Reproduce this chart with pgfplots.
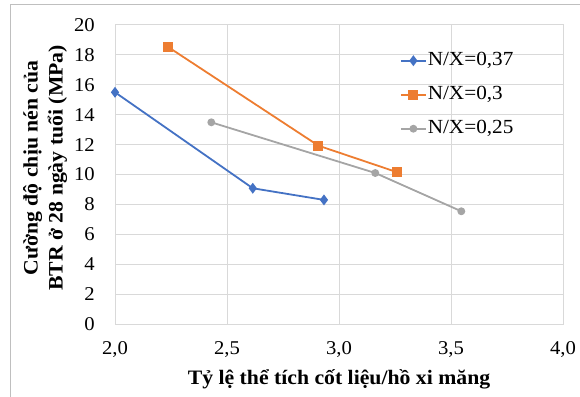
\documentclass[border=0pt]{standalone}
\usepackage{fontspec}
\setmainfont{Liberation Serif}[FakeStretch=1.06]
\usepackage{pgfplots}
\pgfplotsset{compat=1.18}
\definecolor{gridgray}{RGB}{217,217,217}
\definecolor{framegray}{RGB}{191,191,191}
\definecolor{sblue}{RGB}{68,114,196}
\definecolor{sorange}{RGB}{237,125,49}
\definecolor{sgray}{RGB}{165,165,165}
\begin{document}
\begin{tikzpicture}[x=1pt,y=1pt]
\useasboundingbox (0,0) rectangle (580,396);
\draw[framegray, line width=1pt] (10.5,-20) -- (10.5,391.5) -- (620,391.5);
\begin{axis}[
  at={(115pt,72pt)}, anchor=south west,
  scale only axis, width=448pt, height=299pt,
  xmin=2, xmax=4, ymin=0, ymax=20,
  xtick={2,2.5,3,3.5,4}, ytick={0,2,4,6,8,10,12,14,16,18,20},
  grid=major, major grid style={gridgray, line width=1pt},
  axis line style={gridgray, line width=1pt},
  major tick length=0pt,
  /pgf/number format/assume math mode=true,
  x tick label style={/pgf/number format/fixed, /pgf/number format/fixed zerofill, /pgf/number format/precision=1, /pgf/number format/use comma},
  every tick label/.append style={font=\fontsize{19.5}{23}\selectfont, inner sep=0pt},
  yticklabel style={anchor=east, xshift=-20pt},
  xticklabel style={anchor=north, yshift=-17pt},
  xlabel={Tỷ lệ thể tích cốt liệu/hồ xi măng},
  ylabel={Cường độ chịu nén của\\BTR ở 28 ngày tuổi (MPa)},
  every axis x label/.style={at={(rel axis cs:0.5,-0.204)}, anchor=base, font=\fontsize{20.5}{25}\selectfont\bfseries},
  every axis y label/.style={at={(rel axis cs:-0.156,0.522)}, anchor=center, rotate=90, align=center, font=\fontsize{20.5}{25}\selectfont\bfseries},
  legend style={draw=none, fill=none, at={(rel axis cs:0.629,0.918)}, anchor=north west,
    font=\fontsize{20}{24}\selectfont, row sep=16pt,
    nodes={inner sep=0pt, inner xsep=1pt, text height=14pt, text depth=4pt}},
  legend cell align=left,
  legend image code/.code={\draw[mark repeat=2, mark phase=2, #1] plot coordinates {(0pt,0pt) (12.5pt,0pt) (25pt,0pt)};},
]
\addplot[sblue, line width=1.8pt, mark=diamond*, mark size=4pt, mark options={solid}] coordinates {(2.0,15.5) (2.615,9.08) (2.933,8.3)};
\addlegendentry{N/X=0,37}
\addplot[sorange, line width=1.8pt, mark=square*, mark size=4pt, mark options={solid}] coordinates {(2.235,18.55) (2.908,11.93) (3.26,10.15)};
\addlegendentry{N/X=0,3}
\addplot[sgray, line width=1.8pt, mark=*, mark size=3pt, mark options={solid}] coordinates {(2.43,13.49) (3.162,10.1) (3.546,7.54)};
\addlegendentry{N/X=0,25}
\end{axis}
\end{tikzpicture}
\end{document}
